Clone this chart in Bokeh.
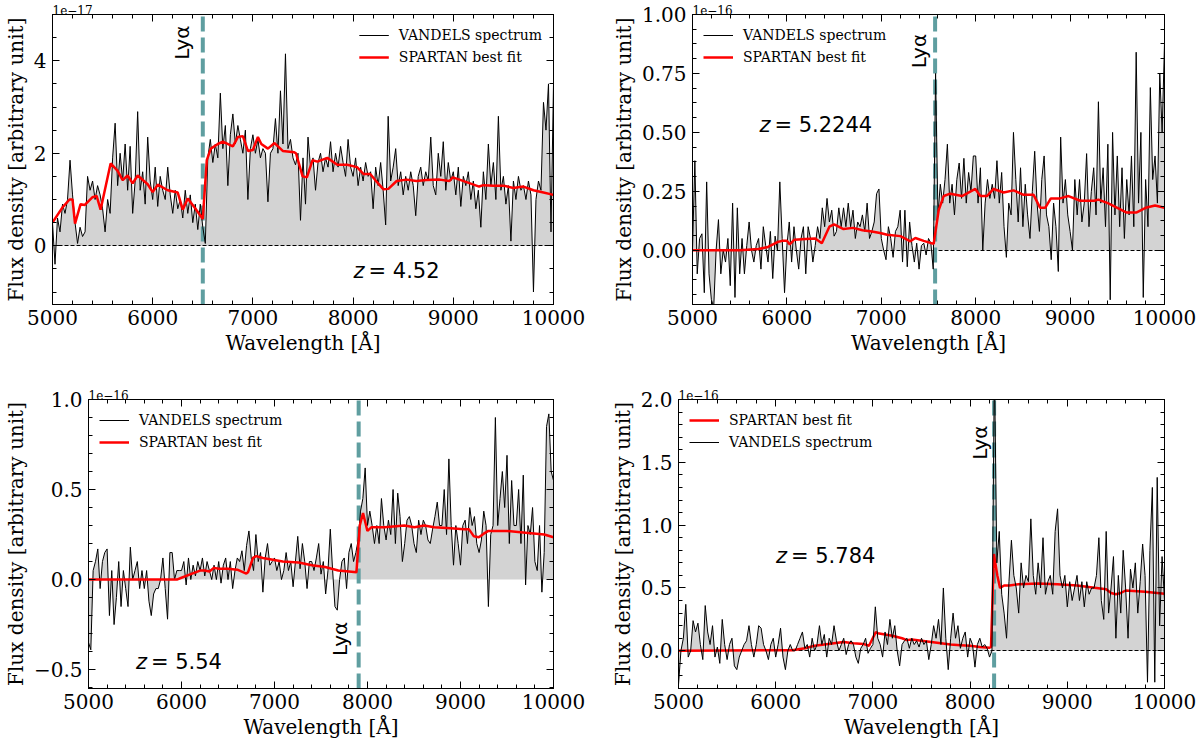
import numpy as np
from bokeh.plotting import figure
from bokeh.models import (Range1d, FixedTicker, LinearAxis, Label,
                          Legend, LegendItem, CustomJSTickFormatter)
from bokeh.layouts import column, row
from bokeh.embed import file_html
from bokeh.resources import INLINE
from bokeh.core.properties import value

# ---------------- data ----------------
WAVE_START, WAVE_END, WAVE_STEP = 5000, 10000, 25   # spectral sampling [A]
X_TICKS = [5000, 6000, 7000, 8000, 9000, 10000]

REDSHIFT_TXT = ["= 4.52", "= 5.2244", "= 5.54", "= 5.784"]
LYA_WAVE = [6500, 7570, 7905, 8247]
SCALE_TXT = ["1e\u221217", "1e\u221216", "1e\u221216", "1e\u221216"]

# panel 1 (z=4.52), flux in 1e-17
flux_z452 = [
    0.5, -0.4, 0.6, 0.3, 0.9, 0.7, 1.0, 1.85,
    1.1, 0.5, 0.05, 0.4, 0.2, 0.3, 1.5, 1.2,
    1.4, 1.0, 1.3, 1.1, 0.8, 0.3, 1.0, 0.7,
    1.9, 2.65, 1.3, 2.0, 1.4, 2.2, 1.2, 2.15,
    0.7, 1.4, 2.9, 1.2, 1.6, 0.9, 2.35, 1.4,
    1.0, 1.7, 0.85, 1.5, 1.2, 1.0, 1.7, 1.1,
    0.7, 1.2, 0.8, 1.0, 0.6, 1.2, 0.7, 1.1,
    0.5, 0.9, 0.35, 0.9, 0.4, 0.05, 1.9, 2.3,
    1.8, 2.2, 1.9, 3.3, 2.1, 2.6, 1.3, 2.4,
    2.85, 2.2, 2.6, 2.3, 2.0, 2.5, 1.0, 2.1,
    2.4, 2.0, 2.3, 1.9, 2.1, 2.0, 0.95, 2.0,
    2.1, 2.75, 2.0, 3.35, 2.2, 4.15, 2.1, 2.3,
    1.9, 1.75, 2.0, 0.55, 1.9, 0.9, 2.35, 1.7,
    1.9, 1.2, 1.8, 2.0, 1.6, 1.9, 1.7, 2.25,
    1.6, 2.0, 1.7, 2.15, 1.8, 1.5, 2.3, 1.7,
    1.5, 1.9, 1.3, 1.7, 1.4, 1.8, 1.5, 1.6,
    0.8, 1.7, 1.3, 1.8, 1.2, 0.45, 2.8, 1.4,
    1.7, 2.1, 1.3, 1.6, 1.1, 1.5, 1.2, 1.6,
    1.3, 0.65, 1.5, 1.7, 1.3, 1.6, 1.4, 2.35,
    1.3, 1.1, 2.0, 1.5, 2.25, 1.2, 1.8, 1.4,
    1.6, 1.1, 1.7, 0.85, 1.5, 1.3, 1.6, 1.0,
    1.4, 0.8, 1.2, 0.4, 1.6, 1.0, 2.2, 1.3,
    1.8, 1.0, 2.8, 1.2, 1.5, 0.9, 1.3, 0.1,
    1.4, 1.0, 1.5, 1.2, 1.3, 1.0, 1.4, 1.1,
    -1.0, 1.0, 1.4, 1.2, 3.1, 2.5, 3.5, 0.3,
    3.5]
fit_z452_wave = [5000, 5100, 5170, 5200, 5225, 5280, 5320, 5400, 5440, 5480,
                 5580, 5650, 5700, 5750, 5800, 5850, 5950, 6000, 6050, 6150,
                 6250, 6300, 6350, 6420, 6500, 6540, 6580, 6650, 6700, 6800,
                 6850, 6900, 6950, 7000, 7050, 7084, 7150, 7216, 7298, 7413,
                 7430, 7496, 7539, 7595, 7644, 7743, 7842, 7940, 8039, 8105,
                 8171, 8237, 8303, 8352, 8435, 8533, 8632, 8731, 8863, 8962,
                 8995, 9126, 9258, 9300, 9400, 9500, 9600, 9700, 9800, 9900,
                 10000]
fit_z452 = [0.5, 0.83, 1.0, 1.0, 0.48, 0.9, 0.88, 1.05, 1.08, 0.78,
            1.78, 1.62, 1.42, 1.52, 1.35, 1.52, 1.33, 1.16, 1.32, 1.2,
            1.15, 0.78, 1.02, 0.82, 0.58, 1.85, 2.1, 2.2, 2.25, 2.15,
            2.35, 2.37, 2.05, 2.07, 2.35, 2.2, 2.1, 2.22, 2.05, 2.02,
            2.0, 1.5, 1.48, 1.85, 1.82, 1.9, 1.75, 1.75, 1.7, 1.55,
            1.55, 1.38, 1.22, 1.23, 1.4, 1.43, 1.4, 1.42, 1.43, 1.4,
            1.48, 1.38, 1.28, 1.31, 1.3, 1.3, 1.25, 1.28, 1.2, 1.15,
            1.1]

# panel 2 (z=5.2244), flux in 1e-16
flux_z522 = [
    0.0, 0.38, -0.1, 0.05, 0.07, -0.18, 0.29, -0.1,
    -0.21, -0.24, 0.0, 0.13, -0.1, 0.0, -0.05, 0.05,
    -0.15, 0.2, -0.2, 0.18, -0.1, 0.05, -0.1, 0.02,
    0.12, 0.0, -0.05, 0.02, 0.05, -0.08, 0.1, 0.02,
    -0.05, 0.08, -0.12, 0.06, 0.0, 0.29, 0.05, -0.18,
    0.02, 0.12, -0.05, 0.1, 0.0, -0.08, 0.05, 0.1,
    -0.1, 0.1, 0.05, -0.05, 0.02, 0.1, 0.05, 0.18,
    0.1, 0.22, 0.12, 0.17, 0.06, 0.08, 0.18, 0.1,
    0.18, 0.1, 0.2, 0.1, 0.17, 0.05, 0.12, 0.1,
    0.15, 0.08, 0.2, 0.05, 0.08, 0.12, 0.24, 0.26,
    0.05, 0.0, -0.04, 0.1, 0.05, -0.03, 0.08, 0.1,
    0.17, -0.05, 0.17, -0.07, 0.12, 0.02, -0.05, 0.03,
    -0.08, 0.02, 0.03, -0.02, 0.05, 0.03, -0.08, 0.75,
    0.15, 0.28, 0.2, 0.3, 0.45, 0.2, 0.28, 0.15,
    0.3, 0.37, 0.22, 0.39, 0.2, 0.33, 0.25, 0.4,
    0.4, 0.2, 0.35, 0.0, 0.2, 0.3, 0.22, 0.28,
    0.22, 0.38, 0.2, 0.33, 0.1, -0.03, 0.2, 0.15,
    0.5, 0.3, 0.12, 0.35, 0.1, 0.28, 0.15, 0.05,
    0.25, 0.42, 0.2, 0.08, 0.3, 0.4, 0.15, 0.1,
    -0.04, 0.2, 0.1, -0.09, 0.48, 0.2, 0.3, 0.15,
    0.08, 0.0, 0.3, 0.15, 0.3, 0.12, 0.2, 0.41,
    0.1, 0.25, 0.35, 0.15, 0.63, 0.2, 0.35, 0.1,
    0.45, -0.21, 0.5, 0.15, 0.4, 0.1, 0.35, 0.05,
    0.3, 0.15, 0.4, 0.1, 0.84, 0.2, 0.5, -0.2,
    0.3, 0.1, 0.69, 0.3, 0.4, 0.2, 0.75, 0.5,
    0.88]
fit_z522_wave = [5000, 5500, 5700, 5800, 5900, 5950, 6000, 6030, 6080, 6200,
                 6300, 6370, 6450, 6500, 6600, 6700, 6800, 6900, 7000, 7062,
                 7203, 7308, 7361, 7449, 7555, 7608, 7661, 7731, 7855, 7996,
                 8049, 8119, 8190, 8296, 8401, 8507, 8613, 8683, 8736, 8796,
                 8895, 8983, 9107, 9255, 9300, 9400, 9500, 9600, 9700, 9800,
                 9900, 10000]
fit_z522 = [0.0, 0.0, 0.005, 0.014, 0.035, 0.04, 0.04, 0.025, 0.045, 0.048,
            0.05, 0.03, 0.1, 0.11, 0.09, 0.095, 0.085, 0.08, 0.072, 0.066,
            0.06, 0.038, 0.052, 0.04, 0.027, 0.17, 0.23, 0.24, 0.23, 0.26,
            0.23, 0.23, 0.26, 0.245, 0.254, 0.235, 0.235, 0.18, 0.18, 0.22,
            0.22, 0.23, 0.21, 0.21, 0.215, 0.2, 0.18, 0.16, 0.16, 0.18,
            0.19, 0.18]

# panel 3 (z=5.54), flux in 1e-16
flux_z554 = [
    -0.35, -0.39, 0.05, 0.1, 0.17, -0.05, 0.1, 0.15,
    0.17, -0.2, 0.05, -0.25, -0.1, 0.1, -0.15, 0.05,
    -0.05, -0.15, 0.18, 0.0, 0.05, 0.1, -0.05, 0.05,
    -0.05, 0.05, -0.12, -0.2, -0.08, -0.05, -0.05, 0.0,
    0.12, -0.05, -0.22, 0.15, 0.15, 0.0, 0.05, 0.05,
    0.05, 0.1, -0.03, 0.12, 0.0, 0.08, 0.02, 0.1,
    0.05, 0.12, 0.02, 0.1, 0.05, 0.0, 0.08, 0.0,
    0.1, -0.02, 0.08, 0.12, 0.0, 0.1, -0.05, 0.05,
    0.12, 0.1, 0.16, 0.05, 0.19, 0.27, 0.12, 0.05,
    0.25, 0.1, 0.15, -0.07, 0.12, 0.2, 0.08, 0.1,
    0.12, 0.05, 0.1, 0.0, 0.05, 0.15, 0.05, 0.1,
    -0.04, 0.1, 0.24, 0.06, 0.2, 0.1, -0.05, 0.1,
    0.1, 0.05, 0.12, 0.2, 0.03, 0.1, -0.08, 0.05,
    0.28, 0.05, -0.15, -0.17, 0.0, 0.1, 0.12, -0.05,
    0.15, 0.2, 0.1, 0.15, 0.22, 0.38, 0.45, 0.62,
    0.3, 0.38, 0.3, 0.2, 0.3, 0.2, 0.45, 0.3,
    0.22, 0.33, 0.25, 0.5, 0.2, 0.48, 0.35, 0.1,
    0.2, 0.33, 0.35, 0.3, 0.2, 0.15, 0.33, 0.25,
    0.33, 0.3, 0.22, 0.2, 0.28, 0.35, 0.43, 0.3,
    0.3, 0.5, 0.25, 0.67, 0.3, 0.08, 0.3, 0.2,
    0.08, 0.3, 0.33, 0.2, 0.4, 0.3, 0.35, 0.2,
    0.15, 0.22, 0.38, 0.3, -0.15, 0.25, 0.3, 0.9,
    0.3, 0.45, 0.6, 0.4, 0.69, 0.2, 0.55, 0.3,
    0.3, 0.5, 0.2, 0.58, -0.03, 0.3, 0.25, 0.4,
    0.1, 0.05, 0.3, -0.07, 0.15, 0.85, 0.92, 0.6,
    0.55]
fit_z554_wave = [5000, 5950, 6000, 6100, 6200, 6250, 6300, 6350, 6400, 6500,
                 6600, 6697, 6715, 6769, 6804, 6875, 6982, 7089, 7259, 7402,
                 7544, 7686, 7800, 7881, 7917, 7952, 7999, 8041, 8184, 8397,
                 8504, 8610, 8717, 8895, 9037, 9090, 9144, 9197, 9250, 9300,
                 9500, 9700, 9900, 10000]
fit_z554 = [0.0, 0.0, 0.01, 0.03, 0.05, 0.05, 0.045, 0.065, 0.06, 0.06,
            0.055, 0.033, 0.04, 0.12, 0.13, 0.12, 0.11, 0.1, 0.095, 0.08,
            0.07, 0.05, 0.045, 0.04, 0.3, 0.37, 0.27, 0.29, 0.29, 0.3,
            0.29, 0.3, 0.29, 0.285, 0.28, 0.28, 0.24, 0.235, 0.255, 0.27,
            0.27, 0.26, 0.25, 0.235]

# panel 4 (z=5.784), flux in 1e-16
flux_z578 = [
    -0.27, 0.0, 0.1, 0.37, -0.05, 0.0, 0.24, 0.15,
    0.22, 0.05, -0.07, 0.36, 0.15, 0.05, 0.2, -0.05,
    0.03, -0.1, 0.25, 0.05, -0.07, 0.05, 0.1, -0.12,
    -0.15, -0.05, 0.0, 0.05, 0.08, 0.2, 0.05, -0.05,
    0.05, 0.2, 0.18, 0.05, 0.0, -0.07, 0.05, 0.1,
    -0.05, 0.05, 0.18, -0.05, -0.15, 0.0, 0.05, 0.0,
    0.0, 0.05, 0.1, 0.15, 0.02, 0.05, -0.05, 0.1,
    0.0, 0.05, 0.2, 0.05, 0.13, -0.05, 0.1, 0.05,
    0.2, 0.08, 0.0, 0.05, 0.1, -0.03, 0.05, 0.08,
    0.05, -0.05, -0.1, 0.02, 0.05, 0.1, -0.02, 0.02,
    0.05, 0.35, 0.1, 0.05, -0.05, 0.15, 0.05, 0.25,
    0.1, 0.2, 0.0, -0.12, 0.05, 0.08, 0.1, 0.02,
    0.1, 0.05, 0.08, 0.03, 0.1, 0.05, 0.08, -0.07,
    0.05, 0.2, 0.1, 0.25, 0.05, 0.5, 0.1, -0.15,
    0.1, 0.3, 0.1, 0.2, 0.02, 0.1, 0.15, -0.05,
    0.1, 0.05, -0.13, 0.05, 0.1, 0.03, 0.05, 0.02,
    -0.05, 0.0, 2.3, 0.7, 0.95, 0.45, 0.3, 0.1,
    0.55, 0.88, 0.6, 0.5, 0.3, 0.7, 0.5, 0.6,
    0.55, 1.05, 0.6, 0.45, 0.7, 0.5, 0.9, 0.45,
    0.55, 0.6, 0.45, 0.95, 1.13, 0.6, 0.5, 0.6,
    0.35, 0.55, 0.4, 0.5, 0.6, 0.4, 0.55, 0.35,
    0.55, 0.45, 0.5, 0.5, 0.6, 0.9, 0.4, 0.25,
    0.95, 0.3, 0.5, 0.75, 0.1, 0.6, 0.3, 0.8,
    0.5, 0.1, 0.65, 0.5, 0.7, 0.3, 0.55, 0.85,
    0.6, -0.25, 0.8, 1.3, -0.25, 1.38, 0.2, 0.75,
    0.4]
fit_z578_wave = [5000, 6171, 6300, 6400, 6500, 6600, 6700, 6800, 6900, 6960,
                 7030, 7050, 7200, 7300, 7350, 7400, 7500, 7600, 7700, 7800,
                 7900, 8000, 8100, 8200, 8215, 8245, 8280, 8308, 8350, 8404,
                 8500, 8700, 8900, 9100, 9300, 9400, 9450, 9500, 9550, 9600,
                 9800, 10000]
fit_z578 = [0.0, 0.005, 0.02, 0.04, 0.05, 0.06, 0.07, 0.06, 0.055, 0.04,
            0.15, 0.14, 0.12, 0.1, 0.085, 0.09, 0.08, 0.07, 0.06, 0.05,
            0.045, 0.04, 0.03, 0.025, 0.03, 0.77, 0.6, 0.5, 0.52, 0.52,
            0.53, 0.535, 0.53, 0.52, 0.5, 0.49, 0.46, 0.45, 0.46, 0.48,
            0.47, 0.455]

Y_TICKS = [[0, 2, 4], [0, 0.25, 0.5, 0.75, 1.0], [-0.5, 0, 0.5, 1.0], [0, 0.5, 1.0, 1.5, 2.0]]

FLUX = [flux_z452, flux_z522, flux_z554, flux_z578]
FIT_W = [fit_z452_wave, fit_z522_wave, fit_z554_wave, fit_z578_wave]
FIT_V = [fit_z452, fit_z522, fit_z554, fit_z578]

# ---------------- layout / style ----------------
Y_RANGES = [(-1.27, 5.0), (-0.23, 1.0), (-0.605, 1.0), (-0.3, 2.0)]
Y_MINOR = [(-1.0, 5.0, 0.5), (-0.1875, 1.0, 0.0625), (-0.6, 1.0, 0.1), (-0.3, 2.0, 0.1)]
Y_DEC = [0, 2, 1, 1]
# width, height, border left, right, top, bottom
GEOM = [(600, 375, 47, 47, 14, 71), (598, 375, 92, 34, 14, 71),
        (600, 374, 84, 47, 24, 61), (598, 374, 78, 34, 24, 61)]
LYA_TXT_POS = [(6294, 4.02), (7401, 0.772), (7702, -0.425), (8098, 1.52)]
Z_TXT_POS = [(8004, -0.535), (5709, 0.532), (5510, -0.456), (6003, 0.756)]
LEG_LOC = ["top_right", "top_left", "top_left", "top_left"]
FIT_FIRST = [False, False, False, True]
ZERO_LINE = [True, True, False, True]

SERIF = "DejaVu Serif"
SANS = "DejaVu Sans"


def build(i):
    W, H, bl, br, bt, bb = GEOM[i]
    y0, y1 = Y_RANGES[i]
    p = figure(width=W, height=H, title=SCALE_TXT[i],
               x_range=Range1d(WAVE_START, WAVE_END), y_range=Range1d(y0, y1),
               output_backend="svg", toolbar_location=None,
               min_border_left=bl, min_border_right=br,
               min_border_top=bt, min_border_bottom=bb)
    p.title.align = "left"
    p.title.text_font = SERIF
    p.title.text_font_size = "12px"
    p.title.text_font_style = "normal"
    p.title.text_color = "black"
    p.title.standoff = 0
    p.title.offset = 0
    p.background_fill_color = "white"
    p.border_fill_color = "white"
    p.outline_line_color = "black"
    p.outline_line_alpha = 1.0
    p.outline_line_width = 1
    p.xgrid.visible = False
    p.ygrid.visible = False

    blank = CustomJSTickFormatter(code="return '';")
    ax_top = LinearAxis(formatter=blank)
    ax_right = LinearAxis(formatter=blank)
    p.add_layout(ax_top, "above")
    p.add_layout(ax_right, "right")

    xt = FixedTicker(ticks=X_TICKS, minor_ticks=[float(v) for v in np.arange(5000, 10001, 200)])
    a, b, s = Y_MINOR[i]
    yt = FixedTicker(ticks=Y_TICKS[i],
                     minor_ticks=[float(v) for v in np.round(np.arange(a, b + s / 2, s), 4)])
    fmt = CustomJSTickFormatter(args=dict(d=Y_DEC[i]),
                                code="return tick.toFixed(d).replace('-', '\u2212');")
    for ax in p.xaxis:
        ax.ticker = xt
    for ax in p.yaxis:
        ax.ticker = yt
    p.left[0].formatter = fmt
    for ax in p.axis:
        ax.major_tick_in = 7
        ax.major_tick_out = 0
        ax.minor_tick_in = 4
        ax.minor_tick_out = 0
        ax.axis_line_color = "black"
        ax.major_tick_line_color = "black"
        ax.minor_tick_line_color = "black"
        ax.major_label_text_font = SERIF
        ax.major_label_text_font_size = "20px"
        ax.major_label_text_color = "black"
        ax.axis_label_text_font = SERIF
        ax.axis_label_text_font_size = "20px"
        ax.axis_label_text_font_style = "normal"
        ax.axis_label_text_color = "black"
    for ax in (ax_top, ax_right):
        ax.major_label_text_font_size = "1px"
        ax.major_label_standoff = 0
        ax.axis_label = None

    xb = p.below[0]
    xb.axis_label = "Wavelength [Å]"
    xb.major_label_standoff = 5
    xb.axis_label_standoff = 3
    yl = p.left[0]
    yl.axis_label = "Flux density [arbitrary unit]"
    yl.major_label_standoff = 6
    yl.axis_label_standoff = 3

    wave = np.arange(WAVE_START, WAVE_END + 1, WAVE_STEP)
    flux = np.array(FLUX[i], dtype=float)
    assert len(flux) == len(wave)

    p.varea(x=wave, y1=np.zeros_like(flux), y2=flux, fill_color="#d3d3d3")
    if ZERO_LINE[i]:
        p.hspan(y=[0], line_color="black", line_width=1, line_dash="4 2")
    p.segment(x0=[LYA_WAVE[i]], y0=[y0], x1=[LYA_WAVE[i]], y1=[y1],
              line_color="#5f9ea0", line_width=4, line_dash="15 6")
    if FIT_FIRST[i]:
        r_fit = p.line(FIT_W[i], FIT_V[i], line_color="red", line_width=2.5)
        r_obs = p.line(wave, flux, line_color="black", line_width=1)
        items = [LegendItem(label=value("SPARTAN best fit"), renderers=[r_fit]),
                 LegendItem(label=value("VANDELS spectrum"), renderers=[r_obs])]
    else:
        r_obs = p.line(wave, flux, line_color="black", line_width=1)
        r_fit = p.line(FIT_W[i], FIT_V[i], line_color="red", line_width=2.5)
        items = [LegendItem(label=value("VANDELS spectrum"), renderers=[r_obs]),
                 LegendItem(label=value("SPARTAN best fit"), renderers=[r_fit])]

    leg = Legend(items=items, location=LEG_LOC[i],
                 border_line_alpha=0, background_fill_alpha=0,
                 label_text_font=SERIF, label_text_font_size="14px",
                 label_text_color="black",
                 glyph_width=30, glyph_height=20, label_height=20,
                 label_standoff=10, spacing=2, padding=5, margin=6)
    p.add_layout(leg)

    lx, ly = LYA_TXT_POS[i]
    p.add_layout(Label(x=lx, y=ly, text="Lyα", angle=90, angle_units="deg",
                       text_align="left", text_baseline="middle",
                       text_font=SANS, text_font_size="20px", text_color="black"))
    zx, zy = Z_TXT_POS[i]
    p.add_layout(Label(x=zx, y=zy, text="z", text_font_style="italic",
                       text_align="left", text_baseline="middle",
                       text_font=SANS, text_font_size="21px", text_color="black"))
    p.add_layout(Label(x=zx, y=zy, x_offset=15, text=REDSHIFT_TXT[i],
                       text_align="left", text_baseline="middle",
                       text_font=SANS, text_font_size="21px", text_color="black"))
    return p


panels = [build(i) for i in range(4)]
layout = column(row(panels[0], panels[1]), row(panels[2], panels[3]))
open("out.html", "w").write(file_html(layout, INLINE))
